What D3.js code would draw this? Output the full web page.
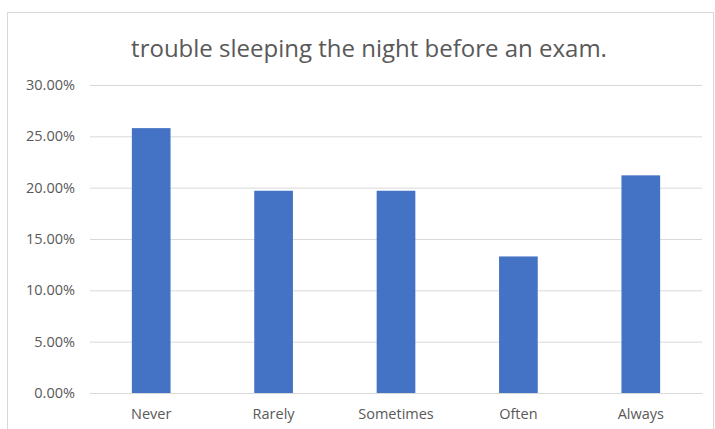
<!DOCTYPE html>
<html>
<head>
<meta charset="utf-8">
<script src="https://cdn.jsdelivr.net/npm/d3@7"></script>
<style>
  html, body { margin: 0; padding: 0; background: #fff; }
  svg { display: block; }
</style>
</head>
<body>
<svg id="chart" width="715" height="429"></svg>
<script>
// Share of students reporting trouble sleeping before an exam
const categories = ["Never", "Rarely", "Sometimes", "Often", "Always"];
const shares = [0.258, 0.197, 0.197, 0.133, 0.212];
const yTicks = [0, 0.05, 0.10, 0.15, 0.20, 0.25, 0.30];
const titleText = "trouble sleeping the night before an exam.";

const svg = d3.select("#chart");
const W = 715, H = 429;
const margin = { top: 85, right: 13, bottom: 36, left: 90 };
const innerW = W - margin.left - margin.right;
const innerH = H - margin.top - margin.bottom;
const font = "'Open Sans', 'Noto Sans', sans-serif";

// chart frame
svg.append("rect")
  .attr("x", 7.5).attr("y", 12.5)
  .attr("width", 706).attr("height", 430)
  .attr("fill", "#fff")
  .attr("stroke", "#d9d9d9").attr("stroke-width", 1);

svg.append("text")
  .attr("x", 369).attr("y", 57)
  .attr("text-anchor", "middle")
  .attr("font-family", font)
  .attr("font-size", 24)
  .attr("fill", "#595959")
  .text(titleText);

const g = svg.append("g").attr("transform", `translate(${margin.left},${margin.top})`);

const x = d3.scaleBand().domain(categories).range([0, innerW]).paddingInner(0.684).paddingOuter(0.342);
const y = d3.scaleLinear().domain([0, 0.30]).range([innerH, 0]);

// horizontal gridlines + y labels
const yAxis = d3.axisLeft(y)
  .tickValues(yTicks)
  .tickSize(-innerW)
  .tickPadding(15)
  .tickFormat(d3.format(".2%"));

const ya = g.append("g").call(yAxis);
ya.select(".domain").remove();
ya.selectAll(".tick line").attr("stroke", "#d9d9d9").attr("stroke-width", 1);
ya.selectAll(".tick text")
  .attr("fill", "#595959")
  .attr("font-family", font)
  .attr("font-size", 14.5);

// bars
g.selectAll("rect.bar")
  .data(categories.map((c, i) => ({ c, v: shares[i] })))
  .join("rect")
  .attr("class", "bar")
  .attr("x", d => x(d.c))
  .attr("y", d => y(d.v))
  .attr("width", x.bandwidth())
  .attr("height", d => innerH - y(d.v))
  .attr("fill", "#4472C4");

// category axis
const xa = g.append("g").attr("transform", `translate(0,${innerH})`)
  .call(d3.axisBottom(x).tickSize(0).tickPadding(16));
xa.select(".domain").attr("stroke", "#d9d9d9");
xa.selectAll(".tick text")
  .attr("fill", "#595959")
  .attr("font-family", font)
  .attr("font-size", 14.5);
</script>
</body>
</html>
